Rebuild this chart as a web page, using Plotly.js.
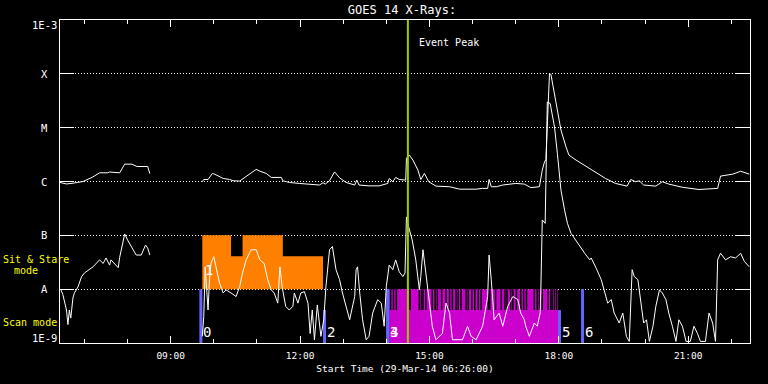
<!DOCTYPE html>
<html>
<head>
<meta charset="utf-8">
<script src="https://cdn.plot.ly/plotly-3.0.1.min.js"></script>
<style>html,body{margin:0;padding:0;background:#000;}#chart{width:768px;height:384px;}</style>
</head>
<body>
<div id="chart"></div>
<script>
// ---------------- data ----------------
const DAY = '2014-03-29 ';
const xRange = ['06:26', '22:26'];

// GOES 14 long channel (1-8 A), W/m^2
const longTimes = ['06:26','06:35','06:44','06:58','07:11','07:21','07:32','07:35','07:49','07:56',
  '08:06','08:13','08:28','08:31', null,
  '09:44','09:46','09:52','09:58','10:01','10:13','10:22','10:27','10:36','10:43',
  '10:52','10:59','11:04','11:13','11:20','11:34','11:36','11:45','11:59','12:13',
  '12:27','12:32','12:35','12:41','12:46','12:48','12:55','13:04','13:16','13:19',
  '13:22','13:36','13:50','14:02','14:04','14:09','14:13','14:18','14:27','14:28',
  '14:32','14:37','14:44','14:48','14:53','14:59','15:09','15:28','15:42','15:56',
  '16:05','16:14','16:21','16:23','16:26','16:33','16:42','17:00','17:12','17:21',
  '17:33','17:37','17:40','17:42','17:44','17:46','17:47','17:49','17:53','17:58',
  '18:03','18:10','18:14','18:24','18:38','18:54','19:05','19:19','19:35','19:40',
  '19:47','19:52','19:58','20:15','20:24','20:33','20:52','21:15','21:41','21:45',
  '21:52','22:02','22:13','22:25'];
const longFlux = [9.6e-7,9.0e-7,9.3e-7,1.0e-6,1.2e-6,1.45e-6,1.45e-6,1.5e-6,1.45e-6,2.1e-6,
  2.1e-6,1.9e-6,1.9e-6,1.4e-6, null,
  9.9e-7,1.09e-6,1.09e-6,1.41e-6,1.37e-6,1.14e-6,1.09e-6,1.03e-6,1.02e-6,1.19e-6,
  1.45e-6,1.68e-6,1.56e-6,1.41e-6,1.19e-6,1.19e-6,1.03e-6,9.6e-7,9.2e-7,8.95e-7,
  8.6e-7,9.5e-7,8.95e-7,1.03e-6,1.41e-6,1.51e-6,1.17e-6,9.6e-7,8.6e-7,1.06e-6,
  8.6e-7,8.3e-7,8.3e-7,9.2e-7,1.14e-6,9.9e-7,1.19e-6,1.09e-6,1.06e-6,2.7e-6,
  3.1e-6,2.5e-6,1.63e-6,1.09e-6,1.41e-6,9.9e-7,8.2e-7,8.0e-7,7.2e-7,7.2e-7,
  7.2e-7,7.45e-7,7.45e-7,1.09e-6,8.0e-7,8.0e-7,8.6e-7,9.2e-7,8.95e-7,7.7e-7,
  8.0e-7,1.63e-6,2.3e-6,2.55e-6,9e-6,3.2e-5,1.0e-4,9.8e-5,4.9e-5,2.1e-5,
  9.0e-6,4.4e-6,3.1e-6,2.5e-6,1.93e-6,1.41e-6,1.14e-6,9.2e-7,8.2e-7,1.09e-6,
  9.9e-7,1.03e-6,8.6e-7,8.2e-7,9.9e-7,8.95e-7,7.8e-7,7.1e-7,7.45e-7,1.26e-6,
  1.31e-6,1.37e-6,1.55e-6,1.37e-6];

// GOES 14 short channel (0.5-4 A), W/m^2
const shortTimes = ['06:27','06:30','06:35','06:37','06:39','06:41','06:44','06:46','06:51','06:56',
  '07:00','07:12','07:21','07:26','07:30','07:35','07:37','07:42','07:47','07:49',
  '07:51','07:56','08:00','08:05','08:12','08:19','08:25','08:28','08:31', null,
  '09:44','09:46','09:48','09:50','09:52','09:54','09:56','10:00','10:03','10:08',
  '10:13','10:17','10:24','10:31','10:36','10:40','10:45','10:52','10:59','11:04',
  '11:10','11:15','11:20','11:24','11:29','11:32','11:35','11:40','11:45','11:50',
  '11:52','11:57','12:01','12:06','12:11','12:14','12:17','12:20','12:24','12:29',
  '12:33','12:36','12:41','12:45','12:50','12:55','12:59','13:04','13:09','13:11',
  '13:16','13:18','13:20','13:23','13:27','13:32','13:36','13:41','13:48','13:53',
  '13:57','14:00','14:04','14:09','14:13','14:18','14:23','14:26','14:28','14:31',
  '14:36','14:41','14:46','14:48','14:51','14:55','15:00','15:04','15:09','15:18',
  '15:23','15:28','15:32','15:46','15:53','15:58','16:05','16:14','16:21','16:23',
  '16:26','16:30','16:37','16:42','16:49','16:56','17:03','17:07','17:12','17:14',
  '17:19','17:26','17:30','17:34','17:35','17:37','17:41','17:44','17:48','17:54',
  '17:58','18:03','18:08','18:12','18:17','18:26','18:36','18:43','18:45','18:52',
  '18:59','19:03','19:08','19:13','19:17','19:24','19:29','19:34','19:38','19:42',
  '19:45','19:50','19:54','19:58','20:02','20:06','20:11','20:15','20:20','20:24',
  '20:29','20:33','20:38','20:43','20:47','20:52','20:57','21:03','21:08','21:13',
  '21:17','21:24','21:29','21:34','21:38','21:41','21:45','21:52','21:59','22:06',
  '22:13','22:18','22:25'];
const shortFlux = [1.0e-8,7.9e-9,4.1e-9,2.2e-9,4.1e-9,2.9e-9,6.9e-9,8.5e-9,1.1e-8,1.7e-8,
  2.0e-8,2.6e-8,3.5e-8,3.0e-8,3.8e-8,2.8e-8,3.5e-8,3.0e-8,2.5e-8,3.9e-8,
  5.4e-8,1.06e-7,8.2e-8,6.1e-8,4.3e-8,4.3e-8,6.6e-8,5.8e-8,4.3e-8, null,
  1.33e-9,3.1e-9,2.6e-8,1.12e-8,4.1e-9,1.5e-8,3.0e-8,4.0e-8,2.6e-8,1.3e-8,
  8.5e-9,9.7e-9,8.5e-9,7.3e-9,1.12e-8,2.0e-8,3.5e-8,5.4e-8,5.4e-8,3.5e-8,
  3.0e-8,1.5e-8,9.7e-9,8.5e-9,5.5e-9,2.6e-8,1.12e-8,4.8e-9,4.1e-9,4.8e-9,
  8.5e-9,5.5e-9,8.5e-9,9.0e-9,5.5e-9,1.5e-9,4.1e-9,1.15e-9,5.1e-9,1.33e-9,
  2.7e-9,1.12e-8,5.4e-8,6.2e-8,2.3e-8,1.5e-8,8.5e-9,4.8e-9,2.7e-9,3.6e-9,
  7.3e-9,2.3e-8,2.6e-8,8.5e-9,2.7e-9,1.15e-9,1.33e-9,3.6e-9,6.4e-9,5.5e-9,
  2.05e-9,1.12e-8,2.8e-8,2.3e-8,3.5e-8,2.1e-8,1.72e-8,2.0e-8,2.2e-7,1.45e-7,
  8.2e-8,3.5e-8,9.7e-9,1.72e-8,5.4e-8,2.0e-8,4.8e-9,2.05e-9,1.15e-9,1.5e-9,
  5.5e-9,3.6e-9,1.15e-9,1.15e-9,2.05e-9,1.33e-9,1.15e-9,2.05e-9,7.3e-9,4.3e-8,
  1.5e-8,2.7e-9,3.6e-9,2.05e-9,4.8e-9,7.3e-9,6.4e-9,3.6e-9,2.7e-9,2.05e-9,
  1.33e-9,2.35e-9,2.05e-9,3.6e-9,9.7e-9,1.93e-7,1.67e-7,3.0e-5,2.8e-5,1.03e-5,
  3.3e-6,6.9e-7,2.95e-7,1.67e-7,1.09e-7,7.1e-8,4.65e-8,3.5e-8,3.8e-8,2.45e-8,
  1.5e-8,9.7e-9,5.5e-9,6.4e-9,3.6e-9,2.35e-9,3.6e-9,1.33e-9,1.07e-9,2.3e-8,
  1.72e-8,1.5e-8,6.4e-9,2.35e-9,2.7e-9,1.07e-9,2.05e-9,4.8e-9,9.7e-9,8.5e-9,
  6.4e-9,3.6e-9,2.05e-9,1.07e-9,2.7e-9,2.05e-9,1.07e-9,1.07e-9,2.05e-9,1.5e-9,
  1.07e-9,1.07e-9,3.6e-9,2.35e-9,1.07e-9,3.5e-8,4.65e-8,3.5e-8,4.0e-8,3.8e-8,
  4.65e-8,3.3e-8,2.6e-8];

// Sit & Stare mode blocks (base at A level)
const sitStart = ['09:44','10:24','10:40','11:36'];
const sitEnd   = ['10:24','10:40','11:36','12:32'];
const sitTop   = [1e-7, 4.1e-8, 1e-7, 4.1e-8];
const sitBase  = 1e-8;

// Scan mode block and its drop-outs
const scanStart = '14:04', scanEnd = '17:59';
const scanBase = 1e-9, scanLow = 4.1e-9, scanTop = 1e-8;
const scanGaps = ['14:06','14:10','14:14','14:33','14:46','14:49','14:51','14:55','15:04','15:08',
  '15:11','15:17','15:23','15:28','15:32','15:37','15:40','15:44','15:51','15:54',
  '15:59','16:03','16:08','16:12','16:22','16:24','16:32','16:40','16:45','16:48',
  '16:53','16:56','17:01','17:07','17:11','17:15','17:26','17:30','17:33','17:37',
  '17:45','17:49','17:51','17:54','17:57'];

// numbered markers
const markerIds   = ['0','2','3','4','5','6'];
const markerTimes = ['09:42','12:34','14:02','14:02','18:01','18:33'];
const markerTops  = [1e-8, 4.1e-9, 1e-8, 1e-8, 4.1e-9, 1e-8];
const marker1Time = '09:45', marker1Level = 2.3e-8;

const eventPeak = '14:30';

const yTickVals = [1e-9, 1e-8, 1e-7, 1e-6, 1e-5, 1e-4, 1e-3];
const yTickText = ['1E-9', 'A', 'B', 'C', 'M', 'X', '1E-3'];

// ---------------- build ----------------
const ts = t => (t === null ? null : DAY + t + ':00');
const MONO = 'DejaVu Sans Mono, Liberation Mono, monospace';

function boxes(starts, ends, lows, highs) {
  const x = [], y = [];
  for (let i = 0; i < starts.length; i++) {
    const a = ts(starts[i]), b = ts(ends[i]);
    x.push(a, a, b, b, a, null);
    y.push(lows[i], highs[i], highs[i], lows[i], lows[i], null);
  }
  return {x, y};
}
function vsegs(times, lows, highs) {
  const x = [], y = [];
  times.forEach((t, i) => { x.push(ts(t), ts(t), null); y.push(lows[i], highs[i], null); });
  return {x, y};
}

const sit = boxes(sitStart, sitEnd, sitStart.map(() => sitBase), sitTop);
const scan = boxes([scanStart], [scanEnd], [scanBase], [scanTop]);
const gaps = vsegs(scanGaps, scanGaps.map(() => scanLow), scanGaps.map(() => scanTop));
const marks = vsegs(markerTimes, markerTimes.map(() => 1e-9), markerTops);

const traces = [
  {x: sit.x, y: sit.y, type: 'scatter', mode: 'lines', fill: 'toself', fillcolor: '#ff8000',
   line: {width: 0, color: '#ff8000'}, hoverinfo: 'skip'},
  {x: scan.x, y: scan.y, type: 'scatter', mode: 'lines', fill: 'toself', fillcolor: '#cc00cc',
   line: {width: 0, color: '#cc00cc'}, hoverinfo: 'skip'},
  {x: gaps.x, y: gaps.y, type: 'scatter', mode: 'lines', line: {width: 1.5, color: '#000'}, hoverinfo: 'skip'},
  {x: marks.x, y: marks.y, type: 'scatter', mode: 'lines', line: {width: 3, color: '#6464ff'}, hoverinfo: 'skip'},
  {x: shortTimes.map(ts), y: shortFlux, type: 'scatter', mode: 'lines',
   line: {width: 1, color: '#ffffff'}, connectgaps: false},
  {x: longTimes.map(ts), y: longFlux, type: 'scatter', mode: 'lines',
   line: {width: 1, color: '#ffffff'}, connectgaps: false},
  {x: [ts(eventPeak), ts(eventPeak)], y: [1e-9, 1e-3], type: 'scatter', mode: 'lines',
   line: {width: 2, color: '#9acd00'}}
];

const PX = p => (p - 60) / 690; // paper x from pixel in margin
const annotations = [];
yTickVals.forEach((v, i) => {
  const first = i === 0, last = i === yTickVals.length - 1;
  annotations.push({xref: 'paper', yref: 'y', x: PX(44), y: Math.log10(v), text: yTickText[i],
    showarrow: false, xanchor: 'center',
    yanchor: first ? 'bottom' : (last ? 'top' : 'middle'),
    yshift: first ? -3 : (last ? 3 : 0),
    font: {family: MONO, size: 10.5, color: '#fff'}});
});
annotations.push({xref: 'paper', yref: 'y', x: PX(1), y: -7.44, text: 'Sit & Stare', showarrow: false,
  xanchor: 'left', yanchor: 'middle', font: {family: MONO, size: 10, color: '#ffff00'}});
annotations.push({xref: 'paper', yref: 'y', x: PX(12), y: -7.66, text: 'mode', showarrow: false,
  xanchor: 'left', yanchor: 'middle', font: {family: MONO, size: 10, color: '#ffff00'}});
annotations.push({xref: 'paper', yref: 'y', x: PX(1), y: -8.62, text: 'Scan mode', showarrow: false,
  xanchor: 'left', yanchor: 'middle', font: {family: MONO, size: 10, color: '#ffff00'}});
annotations.push({xref: 'x', yref: 'paper', x: ts(eventPeak), y: 0.929, xshift: 9, text: 'Event Peak',
  showarrow: false, xanchor: 'left', yanchor: 'middle', font: {family: MONO, size: 10, color: '#fff'}});
markerIds.forEach((id, i) => {
  annotations.push({xref: 'x', yref: 'y', x: ts(markerTimes[i]), y: -9, yshift: 1, text: id,
    showarrow: false, xanchor: 'left', yanchor: 'bottom',
    font: {family: 'Liberation Sans Narrow, DejaVu Sans Mono, monospace', size: 14, color: '#fff'}});
});
annotations.push({xref: 'x', yref: 'y', x: ts(marker1Time), y: Math.log10(marker1Level), text: '1',
  showarrow: false, xanchor: 'left', yanchor: 'middle',
  font: {family: 'Liberation Sans Narrow, DejaVu Sans Mono, monospace', size: 14, color: '#fff'}});

const layout = {
  width: 768, height: 384,
  paper_bgcolor: '#000', plot_bgcolor: '#000',
  margin: {l: 60, r: 18, t: 20, b: 41},
  showlegend: false, hovermode: false,
  title: {text: 'GOES 14 X-Rays:', x: PX(402), xref: 'paper', xanchor: 'center',
    y: 1 - 9.5 / 384, yref: 'container', yanchor: 'middle',
    font: {family: MONO, size: 12, color: '#fff'}},
  xaxis: {
    type: 'date', range: [ts(xRange[0]), ts(xRange[1])],
    tick0: DAY + '00:00:00', dtick: 3 * 3600000, tickformat: '%H:%M',
    ticks: 'inside', ticklen: 7, tickwidth: 1, tickcolor: '#fff',
    minor: {dtick: 3600000, tick0: DAY + '00:00:00', ticks: 'inside', ticklen: 4, tickcolor: '#fff', showgrid: false},
    showline: true, linecolor: '#fff', linewidth: 1, mirror: 'allticks',
    showgrid: false, zeroline: false,
    tickfont: {family: MONO, size: 9.5, color: '#fff'}, ticklabelstandoff: 4,
    title: {text: 'Start Time (29-Mar-14 06:26:00)', standoff: 4, font: {family: MONO, size: 9.5, color: '#fff'}},
    automargin: false
  },
  yaxis: {
    type: 'log', range: [-9, -3], tickvals: yTickVals, showticklabels: false,
    ticks: 'inside', ticklen: 14, tickwidth: 1, tickcolor: '#fff',
    showline: true, linecolor: '#fff', linewidth: 1, mirror: 'allticks',
    showgrid: true, gridcolor: '#fff', gridwidth: 1, griddash: '1px,2px',
    zeroline: false, automargin: false
  },
  annotations: annotations
};

Plotly.newPlot('chart', traces, layout, {staticPlot: true, displayModeBar: false});
</script>
</body>
</html>
